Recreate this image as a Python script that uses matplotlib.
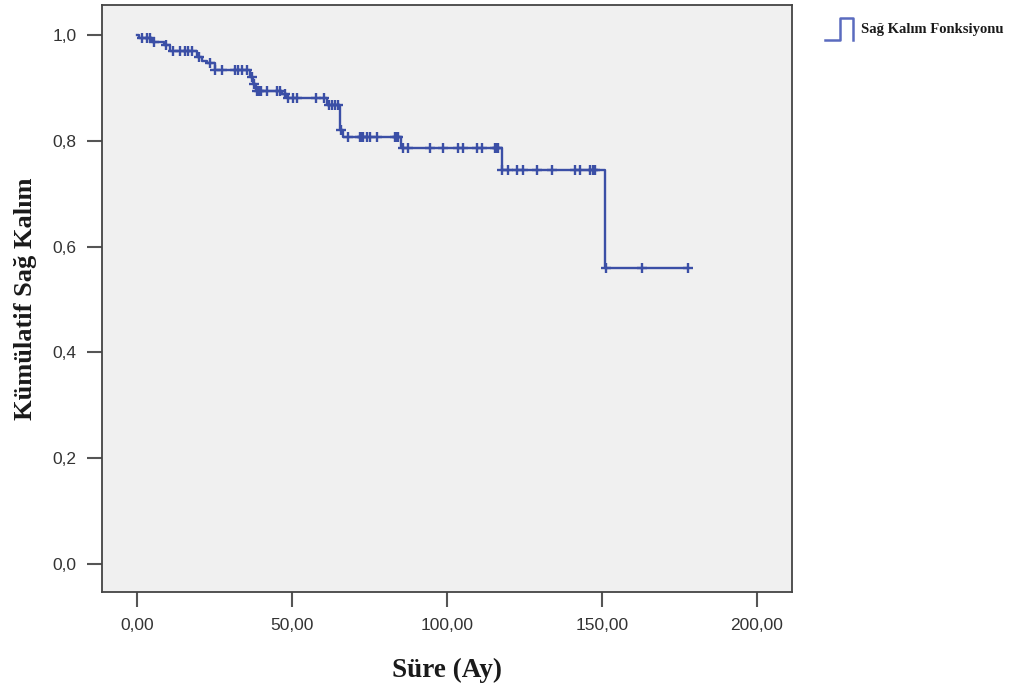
import matplotlib
matplotlib.use("Agg")
import matplotlib.pyplot as plt
from matplotlib.lines import Line2D
import numpy as np

# Kaplan-Meier steps: time of each drop and the level after it
event_times = [0.5, 4.7, 8.8, 10.6, 19.4, 21.0, 22.6, 25.0, 36.5, 37.5, 38.5,
               46.8, 48.5, 61.3, 65.5, 66.5, 85.0, 117.6, 151.0]
surv_levels = [0.994, 0.987, 0.981, 0.970, 0.958, 0.952, 0.947, 0.935, 0.921, 0.908, 0.895,
               0.888, 0.881, 0.868, 0.821, 0.807, 0.786, 0.745, 0.559]
end_time = 177.7

# censored observations (+ marks)
censor_times = [1.5, 3.1, 4.2, 5.5, 9.2, 11.6, 13.9, 15.5, 16.5, 17.7, 20.0, 23.5,
                25.2, 27.3, 31.6, 32.6, 33.8, 35.4, 37.0, 37.8, 38.7, 39.4, 40.0, 41.9,
                45.2, 46.1, 47.7, 48.7, 50.3, 51.6, 57.7, 60.3, 61.9, 62.9, 63.9, 64.8,
                65.8, 68.0, 72.0, 72.6, 73.0, 74.2, 75.2, 77.4, 83.2, 83.9, 84.2,
                85.8, 87.4, 94.5, 98.7, 103.5, 105.2, 109.7, 111.3, 115.5, 116.1, 116.5,
                117.9, 119.7, 122.6, 124.5, 129.0, 133.9, 141.3, 142.9, 146.1, 147.1, 147.7,
                151.2, 163.0, 177.7]

x_ticks = [0, 50, 100, 150, 200]
x_ticklabels = ["0,00", "50,00", "100,00", "150,00", "200,00"]
y_ticks = [0.0, 0.2, 0.4, 0.6, 0.8, 1.0]
y_ticklabels = ["0,0", "0,2", "0,4", "0,6", "0,8", "1,0"]

LINE_COLOR = "#3b4fa6"
FRAME_COLOR = "#444444"
SERIF = ["Liberation Serif", "DejaVu Serif"]
SANS = ["Liberation Sans", "DejaVu Sans"]

fig = plt.figure(figsize=(10.32, 6.9), dpi=100)
ax = fig.add_axes([102 / 1032, 1 - 592 / 690, 690 / 1032, 587 / 690])
ax.set_facecolor("#f0f0f0")

xs = np.array([0.0] + event_times + [end_time])
ys = np.array([1.0] + surv_levels + [surv_levels[-1]])
ax.step(xs, ys, where="post", color=LINE_COLOR, lw=1.7)

idx = np.searchsorted(np.array(event_times), np.array(censor_times), side="right")
cens_y = np.array([1.0] + surv_levels)[idx]
ax.plot(censor_times, cens_y, linestyle="none", marker="+", markersize=7.5,
        markeredgewidth=1.7, color=LINE_COLOR)

ax.set_xlim(-11.3, 211.3)
ax.set_ylim(-0.053, 1.057)
ax.set_xticks(x_ticks)
ax.set_xticklabels(x_ticklabels, family=SANS, fontsize=12.5, color="#333333")
ax.set_yticks(y_ticks)
ax.set_yticklabels(y_ticklabels, family=SANS, fontsize=12.5, color="#333333")
ax.tick_params(direction="out", length=10.5, width=1.5, color="#555555", pad=8)
for sp in ax.spines.values():
    sp.set_color(FRAME_COLOR)
    sp.set_linewidth(1.3)

ax.set_xlabel("Süre (Ay)", family=SERIF, fontweight="bold", fontsize=19.5,
              color="#1a1a1a", labelpad=18)
ax.set_ylabel("Kümülatif Sağ Kalım", family=SERIF, fontweight="bold", fontsize=19,
              color="#1a1a1a", labelpad=11)

# legend outside the plot, step shaped symbol
lx = np.array([825, 840, 840, 853, 853]) / 1032
ly = 1 - np.array([40, 40, 18, 18, 40]) / 690
fig.add_artist(Line2D(lx, ly, transform=fig.transFigure, color="#5a6bbf", lw=1.8))
fig.text(861 / 1032, 1 - 29 / 690, "Sağ Kalım Fonksiyonu", family=SERIF,
         fontweight="bold", fontsize=10.5, color="#1a1a1a", va="center", ha="left")

fig.savefig("out.png", dpi=100)
